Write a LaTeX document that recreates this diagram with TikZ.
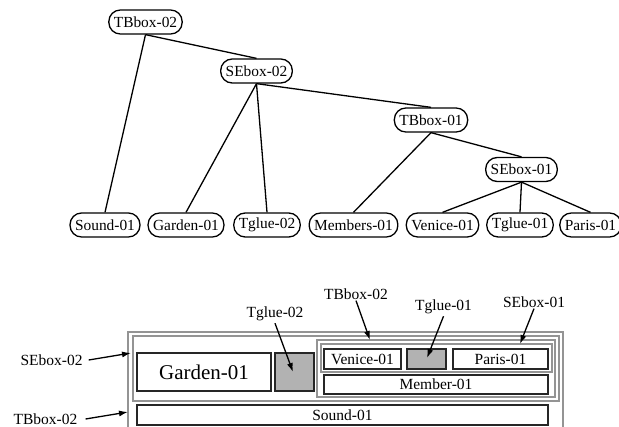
\documentclass[tikz,border=0pt]{standalone}
\usepackage{fontspec}
\setmainfont{Liberation Serif}
\usetikzlibrary{arrows.meta,fit}
\begin{document}
\begin{tikzpicture}[x=1pt,y=-1pt,
 tnode/.style={draw, line width=1.3pt, rounded corners=11.5pt, minimum height=24pt, inner xsep=5pt, inner ysep=0pt, font=\fontsize{15.4}{18}\selectfont},
 edge/.style={line width=1.3pt},
 grect/.style={draw=black!42, line width=1.2pt, inner sep=0pt},
 brect/.style={draw=black!85, line width=1.4pt, inner sep=0pt},
 glue/.style={brect, fill=black!30},
 btxt/.style={font=\fontsize{15.5}{18}\selectfont, inner sep=0pt},
 lbl/.style={font=\fontsize{15.5}{18}\selectfont, inner sep=2pt},
 arr/.style={line width=1.3pt, -{Latex[length=9pt,width=6pt]}}
]
\useasboundingbox (0,0) rectangle (619,427);
% tree
\node[tnode] (t2) at (145.5,22) {TBbox-02};
\node[tnode] (s2) at (256.5,71) {SEbox-02};
\node[tnode] (t1) at (431,120) {TBbox-01};
\node[tnode] (s1) at (521.5,169.5) {SEbox-01};
\node[tnode] (sound) at (105,225) {Sound-01};
\node[tnode] (garden) at (186,225) {Garden-01};
\node[tnode] (tg2) at (267,225) {Tglue-02};
\node[tnode] (members) at (353.5,225) {Members-01};
\node[tnode] (venice) at (442.5,225) {Venice-01};
\node[tnode] (tg1) at (520,225) {Tglue-01};
\node[tnode] (paris) at (590.5,225) {Paris-01};
\draw[edge] (t2.south) -- (sound.north);
\draw[edge] (t2.south) -- (s2.north);
\draw[edge] (s2.south) -- (garden.north);
\draw[edge] (s2.south) -- (tg2.north);
\draw[edge] (s2.south) -- (t1.north);
\draw[edge] (t1.south) -- (members.north);
\draw[edge] (t1.south) -- (s1.north);
\draw[edge] (s1.south) -- (venice.north);
\draw[edge] (s1.south) -- (tg1.north);
\draw[edge] (s1.south) -- (paris.north);
% boxes
\node[grect, fit={(128,332) (563,440)}] (bTB2) {};
\node[grect, fit={(133,336) (559,401)}] (bSE2) {};
\node[grect, fit={(317,340) (555,397)}] (bTB1) {};
\node[grect, fit={(321,344) (552,372)}] (bSE1) {};
\node[brect, fit={(137,353) (271,391)}] (bGarden) {};
\node[glue, fit={(275,353) (314,391)}] (bTg2) {};
\node[brect, fit={(324,349) (401,369)}] (bVenice) {};
\node[glue, fit={(407,349) (446,369)}] (bTg1) {};
\node[brect, fit={(453,349) (548,369)}] (bParis) {};
\node[brect, fit={(324,375) (548,394)}] (bMember) {};
\node[brect, fit={(137,405) (548,425)}] (bSound) {};
\node[btxt, font=\fontsize{21}{24}\selectfont] (xGarden) at (bGarden.center) {Garden-01};
\node[btxt] (xVenice) at (bVenice.center) {Venice-01};
\node[btxt] (xParis) at (bParis.center) {Paris-01};
\node[btxt] (xMember) at (bMember.center) {Member-01};
\node[btxt] (xSound) at (bSound.center) {Sound-01};
% labels
\node[lbl] (lse2) at (51.5,360) {SEbox-02};
\node[lbl] (ltb2) at (45.5,419) {TBbox-02};
\node[lbl] (ltg2) at (275,314) {Tglue-02};
\node[lbl] (ltb1) at (356,294) {TBbox-02};
\node[lbl] (ltg1) at (443.5,307) {Tglue-01};
\node[lbl] (lse1) at (534,302) {SEbox-01};
\coordinate (ase2) at (131,353);
\coordinate (atb2) at (128,412);
\coordinate (atg2) at (293,372);
\coordinate (atb1) at (370,340);
\coordinate (atg1) at (427,358);
\coordinate (ase1) at (520,344);
\draw[arr] ([xshift=4pt]lse2.east) -- (ase2);
\draw[arr] ([xshift=6pt]ltb2.east) -- (atb2);
\draw[arr] (ltg2.south) -- (atg2);
\draw[arr] ([yshift=1pt]ltb1.south) -- (atb1);
\draw[arr] (ltg1.south) -- (atg1);
\draw[arr] ([yshift=1pt]lse1.south) -- (ase1);
\end{tikzpicture}
\end{document}
